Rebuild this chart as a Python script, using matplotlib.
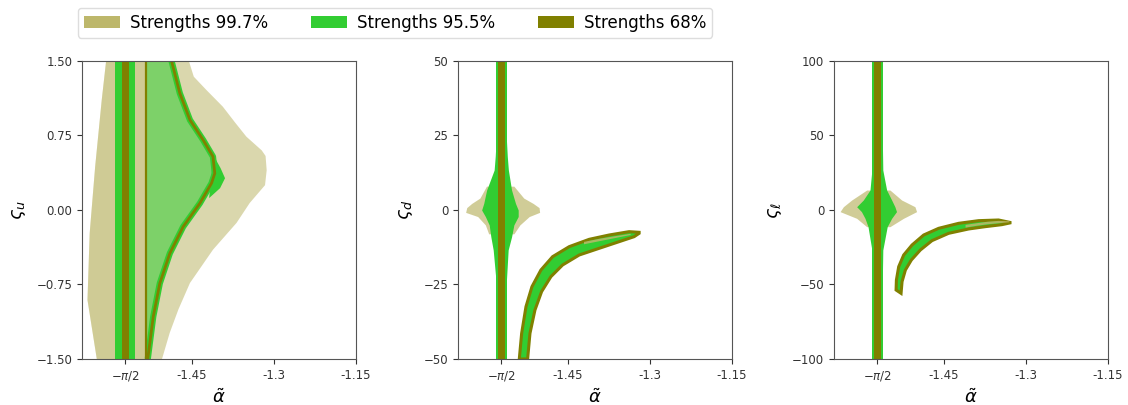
import numpy as np
import matplotlib.pyplot as plt
from matplotlib.patches import Patch

# ---------------- legend ----------------
labels = ["Strengths 99.7%", "Strengths 95.5%", "Strengths 68%"]
colors = ["darkkhaki", "limegreen", "olive"]

# ---------------- axes ----------------
x_ticks = [-np.pi / 2, -1.45, -1.3, -1.15]
x_ticklabels = [r"$-\pi/2$", "-1.45", "-1.3", "-1.15"]
x_lim = (-1.65, -1.15)
y_labels = [r"$\varsigma_u$", r"$\varsigma_d$", r"$\varsigma_\ell$"]
y_ticks_u = [-1.5, -0.75, 0.0, 0.75, 1.5]
y_ticks_d = [-50, -25, 0, 25, 50]
y_ticks_l = [-100, -50, 0, 50, 100]

# ---------------- panel 1 (varsigma_u) ----------------
u_tan_left_y = [1.5, 1.107, 0.436, -0.235, -0.906, -1.5]
u_tan_left_x = [-1.606, -1.614, -1.626, -1.636, -1.640, -1.623]
u_tan_right_y = [1.5, 1.342, 1.208, 1.04, 0.876, 0.738, 0.60, 0.544, 0.40, 0.25,
                 0.07, -0.13, -0.40, -0.735, -1.0, -1.238, -1.5]
u_tan_right_x = [-1.455, -1.446, -1.423, -1.393, -1.370, -1.350, -1.322, -1.315, -1.313, -1.316,
                 -1.344, -1.368, -1.411, -1.453, -1.474, -1.490, -1.504]
u_green_band = [-1.589, -1.554]
u_curve_y = [1.5, 1.175, 0.906, 0.705, 0.537, 0.369, 0.269, 0.067, -0.168, -0.436,
             -0.738, -1.074, -1.5]
u_curve_x = [-1.4866, -1.4715, -1.453, -1.429, -1.411, -1.4077, -1.4137, -1.435, -1.4654, -1.4897,
             -1.508, -1.520, -1.530]
u_green_peak_y = [0.55, 0.42, 0.32, 0.22, 0.12]
u_green_peak_x = [-1.410, -1.397, -1.389, -1.398, -1.418]
u_olive_band = [-1.5775, -1.5640]
u_olive_line_x = -1.533

# ---------------- panel 2 (varsigma_d) ----------------
d_green_y = [50, 25, 18, 13.4, 6.7, 2.2, 0.0, -2.2, -5.0, -9.0, -13.4, -25, -50]
d_green_l = [-1.579, -1.580, -1.582, -1.584, -1.5977, -1.603, -1.6068, -1.600, -1.593, -1.590, -1.5857, -1.580, -1.579]
d_green_r = [-1.5625, -1.562, -1.560, -1.558, -1.5522, -1.545, -1.5401, -1.5401, -1.548, -1.5522, -1.5584, -1.562, -1.5625]
d_tan_y = [8.0, 4.0, 2.2, 0.8, -0.8, -2.2, -5.0, -8.0]
d_tan_l = [-1.598, -1.610, -1.625, -1.634, -1.636, -1.614, -1.600, -1.594]
d_tan_r = [-1.548, -1.530, -1.5128, -1.502, -1.501, -1.520, -1.537, -1.548]
d_band95 = [-1.5805, -1.5610]
d_band68 = [-1.5765, -1.5650]
d_arc_top_x = [-1.5381, -1.5338, -1.5259, -1.515, -1.4986, -1.4773, -1.447, -1.4105, -1.3741, -1.3377, -1.3194]
d_arc_top_y = [-50, -41.39, -32.44, -25.73, -20.13, -15.66, -12.30, -9.84, -8.39, -7.27, -7.49]
d_arc_bot_x = [-1.5229, -1.5186, -1.5095, -1.4974, -1.4804, -1.4591, -1.4287, -1.3923, -1.3559, -1.3285, -1.3194]
d_arc_bot_y = [-50, -41.39, -33.56, -27.40, -22.37, -18.46, -15.10, -12.86, -10.63, -8.95, -7.83]
d_tip_top_x = [-1.420, -1.390, -1.360, -1.335]
d_tip_top_y = [-10.7, -9.6, -8.7, -8.0]
d_tip_bot_x = [-1.335, -1.360, -1.390, -1.420]
d_tip_bot_y = [-8.4, -9.3, -10.4, -11.5]

# ---------------- panel 3 (varsigma_l) ----------------
l_green_y = [100, 50, 26.8, 13.4, 6.7, 2.2, -1.1, -5.6, -11.2, -26.8, -50, -100]
l_green_l = [-1.579, -1.580, -1.581, -1.5844, -1.5966, -1.6087, -1.600, -1.5935, -1.588, -1.581, -1.580, -1.579]
l_green_r = [-1.5625, -1.562, -1.561, -1.554, -1.5449, -1.539, -1.536, -1.5449, -1.553, -1.561, -1.562, -1.5625]
l_tan_y = [13.4, 6.7, 2.2, -1.1, -5.6, -11.2]
l_tan_l = [-1.5904, -1.6178, -1.633, -1.639, -1.6087, -1.5904]
l_tan_r = [-1.548, -1.5267, -1.5024, -1.4994, -1.5234, -1.548]
l_band95 = [-1.5805, -1.5610]
l_band68 = [-1.5765, -1.5650]
l_arc_top_x = [-1.5368, -1.5362, -1.5320, -1.5229, -1.5077, -1.4864, -1.4591, -1.4227, -1.3862, -1.3498, -1.3267]
l_arc_top_y = [-53.69, -46.98, -38.03, -30.20, -23.49, -16.78, -12.30, -8.95, -7.16, -6.71, -8.50]
l_arc_bot_x = [-1.5277, -1.5259, -1.5198, -1.5089, -1.4925, -1.4713, -1.4409, -1.4045, -1.3741, -1.3437, -1.3267]
l_arc_bot_y = [-55.93, -48.10, -40.27, -33.56, -26.85, -20.58, -15.66, -12.75, -11.19, -9.84, -8.50]
l_tip_top_x = [-1.410, -1.390, -1.370, -1.350, -1.330]
l_tip_top_y = [-10.0, -8.9, -7.9, -7.3, -7.6]
l_tip_bot_x = [-1.330, -1.350, -1.370, -1.390, -1.410]
l_tip_bot_y = [-8.2, -8.9, -9.6, -10.6, -11.8]

TAN, GREEN, OLIVE = colors

fig = plt.figure(figsize=(11.28, 4.05), dpi=100)
lefts = [0.0727, 0.406, 0.7394]
axes = [fig.add_axes([l, 0.1136, 0.2429, 0.7358]) for l in lefts]


def style(ax, yticks, ylabel):
    ax.set_xlim(*x_lim)
    ax.set_ylim(yticks[0], yticks[-1])
    ax.set_xticks(x_ticks)
    ax.set_xticklabels(x_ticklabels)
    ax.set_yticks(yticks)
    ax.tick_params(labelsize=8.5, colors="#333333")
    ax.set_xlabel(r"$\tilde{\alpha}$", fontsize=13, labelpad=4)
    ax.set_ylabel(ylabel, fontsize=13, labelpad=6)
    for s in ax.spines.values():
        s.set_color("#555555")


# ---- panel 1 ----
ax = axes[0]
poly_x = u_tan_left_x + u_tan_right_x[::-1]
poly_y = u_tan_left_y + u_tan_right_y[::-1]
ax.fill(poly_x, poly_y, color=TAN, alpha=0.55, lw=0)
ax.fill(u_tan_left_x + [u_olive_line_x, u_olive_line_x], u_tan_left_y + [-1.5, 1.5],
        color=TAN, alpha=0.35, lw=0)
ax.axvspan(u_green_band[0], u_green_band[1], color=GREEN, lw=0)
gx = [u_olive_line_x] + u_curve_x + [u_olive_line_x]
gy = [1.5] + u_curve_y + [-1.5]
ax.fill(gx, gy, color=GREEN, alpha=0.55, lw=0)
ax.plot(u_curve_x, u_curve_y, color=GREEN, lw=4.5, solid_capstyle="butt")
ax.fill(u_green_peak_x, u_green_peak_y, color=GREEN, lw=0)
ax.plot(u_curve_x, u_curve_y, color=OLIVE, lw=2.0)
ax.axvspan(u_olive_band[0], u_olive_band[1], color=OLIVE, lw=0)
ax.axvline(u_olive_line_x, color=OLIVE, lw=1.6)
style(ax, y_ticks_u, y_labels[0])


def spike_panel(ax, gy, gl, gr, ty, tl, tr, b95, b68, atx, aty, abx, aby, ttx, tty, tbx, tby):
    ax.fill_betweenx(ty, tl, tr, color=TAN, alpha=0.7, lw=0)
    ax.fill_betweenx(gy, gl, gr, color=GREEN, lw=0)
    ax.axvspan(b95[0], b95[1], color=GREEN, lw=0)
    ax.axvspan(b68[0], b68[1], color=OLIVE, lw=0)
    ax.fill(atx + abx[::-1], aty + aby[::-1], facecolor=GREEN, edgecolor=OLIVE, lw=2.2)
    ax.fill(ttx + tbx, tty + tby, color=TAN, alpha=0.85, lw=0)


spike_panel(axes[1], d_green_y, d_green_l, d_green_r, d_tan_y, d_tan_l, d_tan_r,
            d_band95, d_band68, d_arc_top_x, d_arc_top_y, d_arc_bot_x, d_arc_bot_y,
            d_tip_top_x, d_tip_top_y, d_tip_bot_x, d_tip_bot_y)
style(axes[1], y_ticks_d, y_labels[1])

spike_panel(axes[2], l_green_y, l_green_l, l_green_r, l_tan_y, l_tan_l, l_tan_r,
            l_band95, l_band68, l_arc_top_x, l_arc_top_y, l_arc_bot_x, l_arc_bot_y,
            l_tip_top_x, l_tip_top_y, l_tip_bot_x, l_tip_bot_y)
style(axes[2], y_ticks_l, y_labels[2])

handles = [Patch(facecolor=c, edgecolor="none") for c in colors]
fig.legend(handles, labels, loc="upper left", bbox_to_anchor=(78 / 1128, 1 - 8 / 405),
           ncol=3, fontsize=12, columnspacing=2.6, handlelength=2.15, handleheight=0.75,
           handletextpad=0.6, borderpad=0.35,
           frameon=True, framealpha=1, edgecolor="#dddddd", borderaxespad=0)

fig.savefig("out.png", dpi=100)
